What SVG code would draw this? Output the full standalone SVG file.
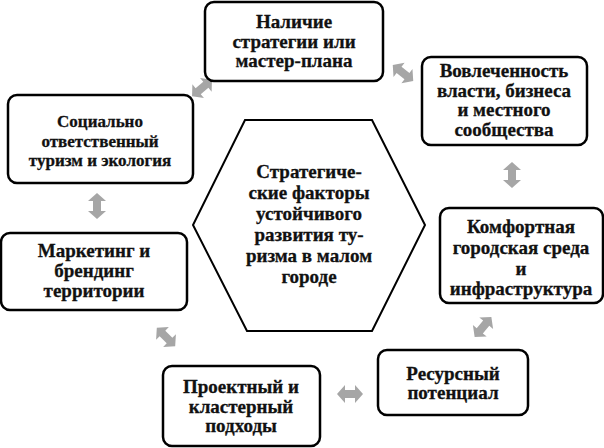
<svg xmlns="http://www.w3.org/2000/svg" width="604" height="448" viewBox="0 0 604 448">
<defs>
<style>
.box{fill:#fff;stroke:#000;stroke-width:2.5}
.hex{fill:#fff;stroke:#000;stroke-width:2}
.t{font-family:'Liberation Serif',serif;font-weight:bold;font-size:19px;text-anchor:middle;fill:#111;stroke:#111;stroke-width:0.3}
.s{font-size:17px}
.arr{fill:#a6a6a6}
</style>
<path id="da" d="M-13,0 L-5,-9 L-5,-4 L5,-4 L5,-9 L13,0 L5,9 L5,4 L-5,4 L-5,9 Z"/>
</defs>
<rect width="604" height="448" fill="#fff"/>
<g id="connectors" class="arr">
<use href="#da" transform="translate(403,73) rotate(38)"/>
<use href="#da" transform="translate(202,88) rotate(-40)"/>
<use href="#da" transform="translate(512,175) rotate(90)"/>
<use href="#da" transform="translate(97,206) rotate(90)"/>
<use href="#da" transform="translate(166,337) rotate(45)"/>
<use href="#da" transform="translate(350,394)"/>
<use href="#da" transform="translate(483,327) rotate(-50)"/>
</g>
<g id="center">
<polygon class="hex" points="245,120 372,120 425,225 372,331 247,331 193,225"/>
<text class="t"><tspan x="309" y="178">Стратегиче-</tspan><tspan x="309" y="199">ские факторы</tspan><tspan x="309" y="220">устойчивого</tspan><tspan x="309" y="241">развития ту-</tspan><tspan x="309" y="262">ризма в малом</tspan><tspan x="309" y="283">городе</tspan></text>
</g>
<g id="n1">
<rect class="box" x="205" y="2" width="178" height="79" rx="9"/>
<text class="t"><tspan x="294" y="28">Наличие</tspan><tspan x="294" y="48">стратегии или</tspan><tspan x="294" y="67">мастер-плана</tspan></text>
</g>
<g id="n2">
<rect class="box" x="422" y="57" width="165" height="88" rx="9"/>
<text class="t"><tspan x="504" y="77">Вовлеченность</tspan><tspan x="504" y="97">власти, бизнеса</tspan><tspan x="504" y="116">и местного</tspan><tspan x="504" y="136">сообщества</tspan></text>
</g>
<g id="n3">
<rect class="box" x="440" y="208" width="163" height="95" rx="9"/>
<text class="t"><tspan x="521" y="233">Комфортная</tspan><tspan x="521" y="254">городская среда</tspan><tspan x="521" y="275">и</tspan><tspan x="521" y="295">инфраструктура</tspan></text>
</g>
<g id="n4">
<rect class="box" x="378" y="350" width="150" height="65" rx="9"/>
<text class="t"><tspan x="453" y="380">Ресурсный</tspan><tspan x="453" y="399">потенциал</tspan></text>
</g>
<g id="n5">
<rect class="box" x="163" y="366" width="157" height="80" rx="9"/>
<text class="t"><tspan x="241" y="393">Проектный и</tspan><tspan x="241" y="413">кластерный</tspan><tspan x="241" y="432">подходы</tspan></text>
</g>
<g id="n6">
<rect class="box" x="1" y="233" width="186" height="77" rx="9"/>
<text class="t"><tspan x="94" y="257">Маркетинг и</tspan><tspan x="94" y="277">брендинг</tspan><tspan x="94" y="297">территории</tspan></text>
</g>
<g id="n7">
<rect class="box" x="8" y="95" width="185" height="88" rx="9"/>
<text class="t s"><tspan x="100" y="127">Социально</tspan><tspan x="100" y="147">ответственный</tspan><tspan x="100" y="166">туризм и экология</tspan></text>
</g>
</svg>
